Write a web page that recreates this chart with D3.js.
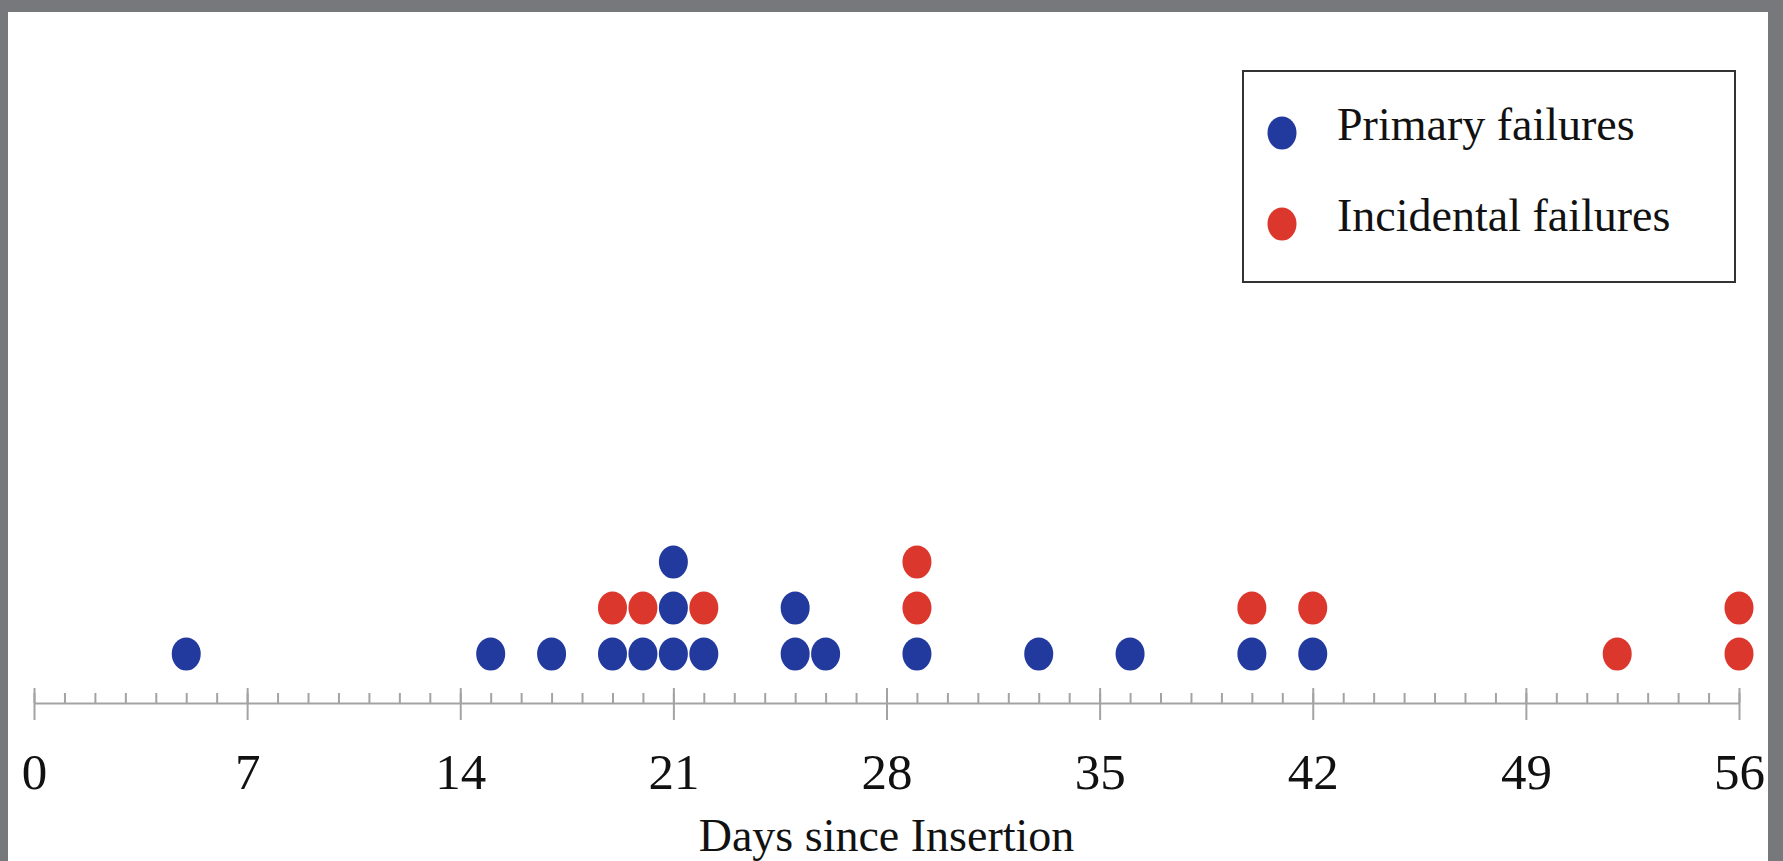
<!DOCTYPE html>
<html>
<head>
<meta charset="utf-8">
<script src="https://cdn.jsdelivr.net/npm/d3@7"></script>
<style>
  body { margin: 0; background: #76787c; }
  svg { display: block; font-family: "Liberation Serif", "Times New Roman", serif; }
</style>
</head>
<body>
<div id="plot"></div>
<script>
// days since insertion, one entry per failure
const primaryDays = [5, 15, 17, 19, 20, 21, 21, 21, 22, 25, 25, 26, 29, 33, 36, 40, 42];
const incidentalDays = [19, 20, 22, 29, 29, 40, 42, 52, 56, 56];
const seriesNames = ['Primary failures', 'Incidental failures'];
const majorTicks = [0, 7, 14, 21, 28, 35, 42, 49, 56];
const axisTitle = 'Days since Insertion';

const colors = ['#22399e', '#db372d'];

const W = 1783, H = 861;

let svg = d3.select("#plot")
    .append("svg")
    .attr("width", W)
    .attr("height", H);

// gray frame + white panel
svg.append("rect").attr("width", W).attr("height", H).attr("fill", "#76787c");
svg.append("rect")
    .attr("x", 8).attr("y", 12)
    .attr("width", 1768 - 8).attr("height", H - 12)
    .attr("fill", "#fff");

const axisY = 703;

let x = d3.scaleLinear()
    .domain([0, 56])
    .range([34, 1739]);

// stack position -> vertical position
let y = d3.scaleLinear()
    .domain([1, 3])
    .range([654, 562]);

// stack the dots: for each day, primary first then incidental
const counts = {};
const points = [];
[primaryDays, incidentalDays].forEach((days, s) => {
    days.forEach(d => {
        counts[d] = (counts[d] || 0) + 1;
        points.push({ day: d, level: counts[d], series: s });
    });
});

// minor ticks, one per day, pointing up
svg.append("g")
    .attr("class", "axis minor")
    .attr("transform", "translate(0," + axisY + ")")
    .call(d3.axisTop(x)
        .tickValues(d3.range(0, 57))
        .tickSizeInner(10)
        .tickSizeOuter(0)
        .tickFormat(""));

// major ticks crossing the line, with labels
let major = svg.append("g")
    .attr("class", "axis major")
    .attr("transform", "translate(0," + axisY + ")")
    .call(d3.axisBottom(x)
        .tickValues(majorTicks)
        .tickSizeInner(17)
        .tickSizeOuter(0)
        .tickFormat(d3.format("d")));

major.selectAll(".tick line").attr("y1", -15);
major.selectAll(".tick text")
    .attr("y", 86)
    .attr("dy", null)
    .attr("fill", "#111")
    .style("font-size", "51px")
    .style("font-family", "Liberation Serif, serif");

svg.selectAll(".axis path, .axis line")
    .attr("stroke", "#a3a3a3")
    .attr("stroke-width", 2);
svg.select(".axis.minor path").remove();

svg.append("text")
    .attr("x", (x(0) + x(56)) / 2)
    .attr("y", 851)
    .attr("text-anchor", "middle")
    .attr("fill", "#111")
    .style("font-size", "46px")
    .text(axisTitle);

svg.append("g")
    .selectAll("ellipse")
    .data(points)
    .join("ellipse")
    .attr("cx", d => x(d.day))
    .attr("cy", d => y(d.level))
    .attr("rx", 14.5)
    .attr("ry", 16.5)
    .attr("fill", d => colors[d.series]);

// legend
let legend = svg.append("g");
legend.append("rect")
    .attr("x", 1243).attr("y", 71)
    .attr("width", 1735 - 1243).attr("height", 282 - 71)
    .attr("fill", "#fff")
    .attr("stroke", "#333")
    .attr("stroke-width", 2);

seriesNames.forEach((name, i) => {
    const cy = 133 + i * 91;
    legend.append("ellipse")
        .attr("cx", 1282).attr("cy", cy)
        .attr("rx", 14.5).attr("ry", 16.5)
        .attr("fill", colors[i]);
    legend.append("text")
        .attr("x", 1337).attr("y", cy + 7)
        .attr("fill", "#111")
        .style("font-size", "46px")
        .text(name);
});
</script>
</body>
</html>
